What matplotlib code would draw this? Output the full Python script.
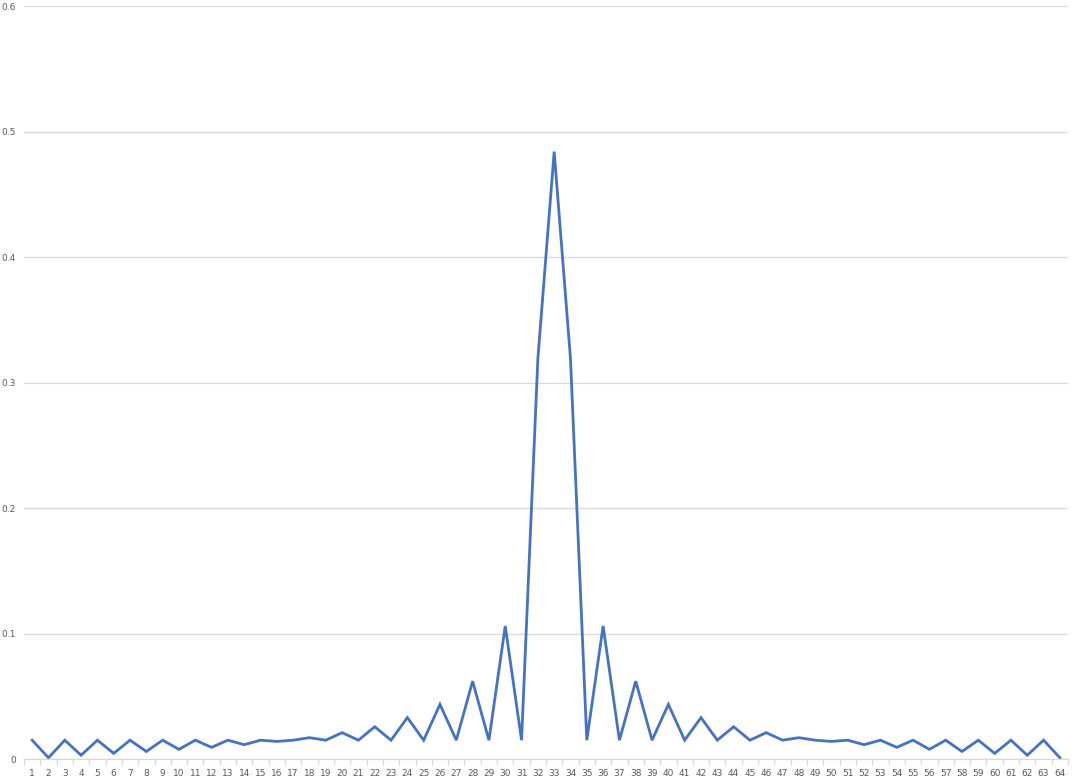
import matplotlib.pyplot as plt
import numpy as np

# categories 1..64 and the magnitude values
categories = list(range(1, 65))
left_half = [0.015, 0.001, 0.015, 0.003, 0.015, 0.0045, 0.015, 0.006,
             0.015, 0.0077, 0.015, 0.0093, 0.015, 0.0114, 0.015, 0.014,
             0.015, 0.017, 0.015, 0.021, 0.015, 0.0257, 0.015, 0.033,
             0.015, 0.0435, 0.015, 0.062, 0.015, 0.106, 0.015, 0.319]
peak = [0.484]
right_half = [0.319, 0.015, 0.106, 0.015, 0.062, 0.015, 0.0435, 0.015,
              0.033, 0.015, 0.0257, 0.015, 0.021, 0.015, 0.017, 0.015,
              0.014, 0.015, 0.0114, 0.015, 0.0093, 0.015, 0.0077, 0.015,
              0.006, 0.015, 0.0045, 0.015, 0.003, 0.015, 0.001]
values = left_half + peak + right_half

y_ticks = [0, 0.1, 0.2, 0.3, 0.4, 0.5, 0.6]
y_labels = ['0', '0.1', '0.2', '0.3', '0.4', '0.5', '0.6']

txt = '#595959'
grid = '#d9d9d9'

fig = plt.figure(figsize=(10.76, 7.82), dpi=100)
ax = fig.add_axes([0.0223, 0.0294, 0.9703, 0.9629])

ax.plot(categories, values, color='#4472C4', linewidth=2.0, solid_joinstyle='miter')

ax.set_xlim(0.5, 64.5)
ax.set_ylim(0, 0.6)
ax.set_yticks(y_ticks)
ax.set_yticklabels(y_labels)
ax.set_xticks(categories)
ax.set_xticklabels([str(c) for c in categories])
ax.set_xticks(np.arange(0.5, 65, 1), minor=True)

ax.grid(axis='y', color=grid, linewidth=0.9)
ax.set_axisbelow(True)
for side in ['top', 'right', 'left']:
    ax.spines[side].set_visible(False)
ax.spines['bottom'].set_color(grid)
ax.spines['bottom'].set_linewidth(0.9)

ax.tick_params(axis='x', which='major', length=0, labelsize=6.5, labelcolor=txt, pad=7)
ax.tick_params(axis='x', which='minor', length=4, color=grid, width=0.9)
ax.tick_params(axis='y', length=0, labelsize=6.5, labelcolor=txt, pad=6)

fig.savefig('out.png', dpi=100)
